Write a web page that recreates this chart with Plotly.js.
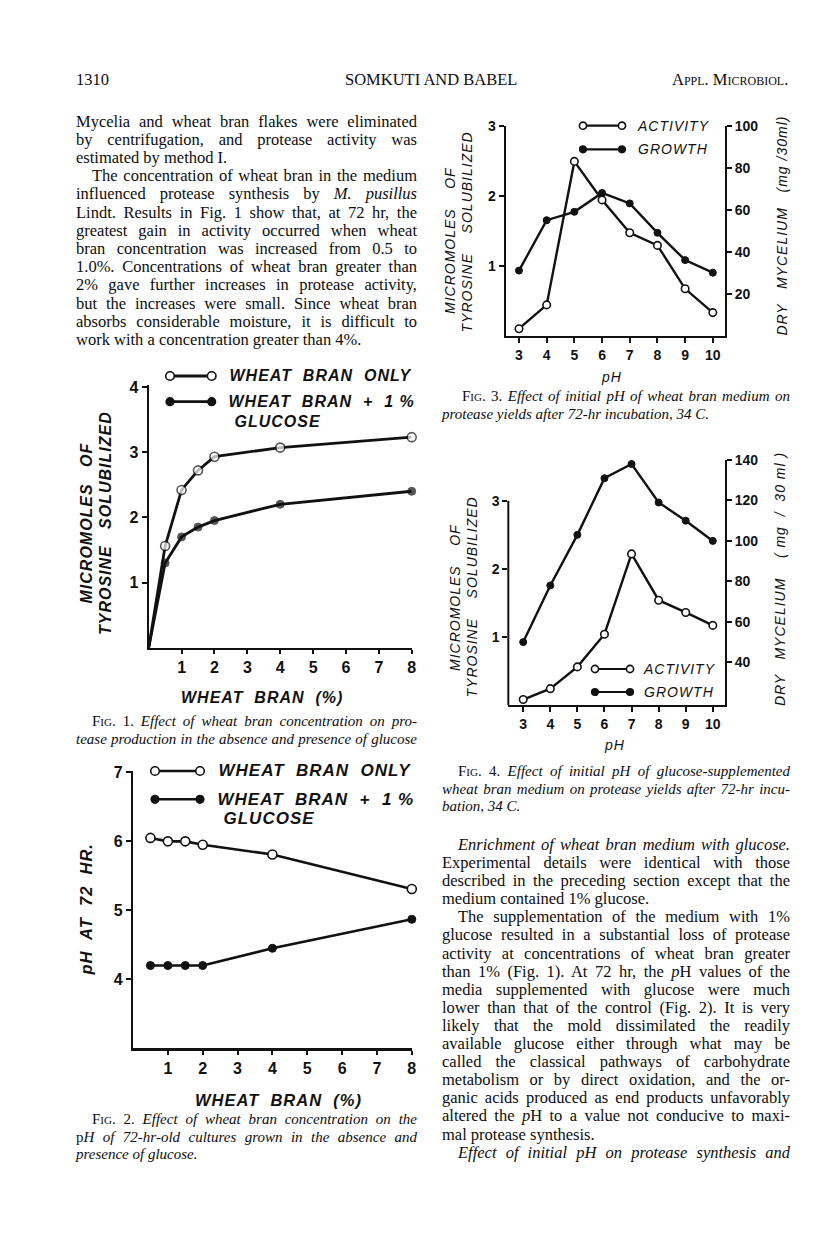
<!DOCTYPE html>
<html>
<head>
<meta charset="utf-8">
<script src="https://cdn.plot.ly/plotly-3.0.1.min.js"></script>
<style>
  html, body { margin:0; padding:0; background:#fff; }
  #page { position:relative; width:816px; height:1256px; overflow:hidden; background:#fff; }
  #chart { position:absolute; left:0; top:0; width:816px; height:1256px; }
  #chart text.annotation-text { letter-spacing: 1px; }
  .ln { position:absolute; white-space:nowrap; font-family:'Liberation Serif','Times New Roman',serif;
        color:#0d0d0d; text-align:justify; text-align-last:justify; }
  .body { font-size:16.5px; line-height:18.2px; height:18.2px; }
  .cap { font-size:15px; line-height:17.5px; height:17.5px; font-style:italic; }
  .last { text-align-last:left; }
  .sc { font-variant:small-caps; font-style:normal; }
  .rm { font-style:normal; }
</style>
</head>
<body>
<div id="page">
  <div id="chart"></div>
</div>
<script>
// ---------------- DATA ----------------
// Fig. 1: protease activity vs wheat bran concentration
const fig1Bran = [0, 0.5, 1, 1.5, 2, 4, 8];
const fig1WheatOnly = [0, 1.56, 2.42, 2.72, 2.93, 3.07, 3.23];
const fig1WheatGlucose = [0, 1.30, 1.70, 1.85, 1.95, 2.20, 2.40];
const fig1XTicks = [1, 2, 3, 4, 5, 6, 7, 8];
const fig1YTicks = [1, 2, 3, 4];

// Fig. 2: pH at 72 hr vs wheat bran concentration
const fig2Bran = [0.5, 1, 1.5, 2, 4, 8];
const fig2WheatOnly = [6.05, 6.0, 6.0, 5.95, 5.81, 5.31];
const fig2WheatGlucose = [4.2, 4.2, 4.2, 4.2, 4.45, 4.87];
const fig2XTicks = [1, 2, 3, 4, 5, 6, 7, 8];
const fig2YTicks = [4, 5, 6, 7];

// Fig. 3: wheat bran medium, initial pH
const pHValues = [3, 4, 5, 6, 7, 8, 9, 10];
const fig3Activity = [0.10, 0.44, 2.49, 1.94, 1.47, 1.29, 0.67, 0.33];
const fig3Growth = [31, 55, 59, 68, 63, 49, 36, 30];
const fig3LeftTicks = [1, 2, 3];
const fig3RightTicks = [20, 40, 60, 80, 100];

// Fig. 4: glucose-supplemented wheat bran medium, initial pH
const fig4Activity = [0.08, 0.24, 0.56, 1.04, 2.22, 1.54, 1.36, 1.17];
const fig4Growth = [50, 78, 103, 131, 138, 119, 110, 100];
const fig4LeftTicks = [1, 2, 3];
const fig4RightTicks = [40, 60, 80, 100, 120, 140];

// ---------------- HELPERS ----------------
const W = 816, H = 1256;
const P = x => x / W;
const Q = y => 1 - y / H;
const INK = '#111';
const SANS = 'Liberation Sans, Arial, sans-serif';

function openTrace(x, y, xa, ya, size, lw, hideZero) {
  return {
    x: x, y: y, xaxis: xa, yaxis: ya, type: 'scatter', mode: 'lines+markers',
    line: { color: INK, width: lw },
    marker: { symbol: 'circle', color: '#fff', size: hideZero ? x.map(v => v === 0 ? 0 : size) : size,
              line: { color: INK, width: 1.6 } },
    cliponaxis: false, showlegend: false, hoverinfo: 'skip'
  };
}
function filledTrace(x, y, xa, ya, size, lw, hideZero) {
  return {
    x: x, y: y, xaxis: xa, yaxis: ya, type: 'scatter', mode: 'lines+markers',
    line: { color: INK, width: lw },
    marker: { symbol: 'circle', color: INK, size: hideZero ? x.map(v => v === 0 ? 0 : size) : size,
              line: { color: INK, width: 1 } },
    cliponaxis: false, showlegend: false, hoverinfo: 'skip'
  };
}

const data = [
  openTrace(fig1Bran, fig1WheatOnly, 'x', 'y', 9, 2.8, true),
  filledTrace(fig1Bran, fig1WheatGlucose, 'x', 'y', 8, 2.8, true),
  openTrace(fig2Bran, fig2WheatOnly, 'x2', 'y2', 9, 2.6, false),
  filledTrace(fig2Bran, fig2WheatGlucose, 'x2', 'y2', 8, 2.6, false),
  openTrace(pHValues, fig3Activity, 'x3', 'y3', 7.5, 2.4, false),
  filledTrace(pHValues, fig3Growth, 'x3', 'y4', 7, 2.4, false),
  openTrace(pHValues, fig4Activity, 'x4', 'y5', 7.5, 2.4, false),
  filledTrace(pHValues, fig4Growth, 'x4', 'y6', 7, 2.4, false)
];

function axis(o) {
  return Object.assign({
    showgrid: false, zeroline: false, showline: true, linecolor: INK, linewidth: 2.2,
    ticks: 'outside', ticklen: 5, tickwidth: 2, tickcolor: INK, tickmode: 'array',
    fixedrange: true
  }, o);
}
const bigTick = { family: SANS, size: 16, color: INK, weight: 'bold' };
const smallTick = { family: SANS, size: 14, color: INK, weight: 'bold' };

const layout = {
  width: W, height: H, margin: { l: 0, r: 0, t: 0, b: 0 },
  paper_bgcolor: '#fff', plot_bgcolor: 'rgba(0,0,0,0)', showlegend: false,
  font: { family: SANS, color: INK },
  // Fig. 1
  xaxis: axis({ domain: [P(148.7), P(411.7)], range: [0, 8], tickvals: fig1XTicks, anchor: 'y',
                tickfont: bigTick, ticklen: 4 }),
  yaxis: axis({ domain: [Q(647.7), Q(385)], range: [0, 4.03], tickvals: fig1YTicks, anchor: 'x',
                tickfont: bigTick }),
  // Fig. 2
  xaxis2: axis({ domain: [P(133), P(411.8)], range: [0, 8], tickvals: fig2XTicks, anchor: 'y2',
                 tickfont: bigTick, ticklen: 4 }),
  yaxis2: axis({ domain: [Q(1048.3), Q(771)], range: [3, 7.02], tickvals: fig2YTicks, anchor: 'x2',
                 tickfont: bigTick }),
  // Fig. 3
  xaxis3: axis({ domain: [P(505.7), P(725)], range: [2.52, 10.44], tickvals: pHValues, anchor: 'y3',
                 tickfont: smallTick, linewidth: 2 }),
  yaxis3: axis({ domain: [Q(335.7), Q(125.7)], range: [0, 3], tickvals: fig3LeftTicks, anchor: 'x3',
                 tickfont: smallTick, linewidth: 2 }),
  yaxis4: axis({ overlaying: 'y3', side: 'right', anchor: 'x3', range: [0, 100], tickvals: fig3RightTicks,
                 tickfont: smallTick, linewidth: 2 }),
  // Fig. 4
  xaxis4: axis({ domain: [P(508.3), P(725)], range: [2.45, 10.45], tickvals: pHValues, anchor: 'y5',
                 tickfont: smallTick, linewidth: 2 }),
  yaxis5: axis({ domain: [Q(705), Q(460)], range: [0, 3.6], tickvals: fig4LeftTicks, anchor: 'x4',
                 tickfont: smallTick, showline: false }),
  yaxis6: axis({ overlaying: 'y5', side: 'right', anchor: 'x4', range: [18.9, 140], tickvals: fig4RightTicks,
                 tickfont: smallTick, linewidth: 2 }),
  shapes: [],
  annotations: []
};

// partial left axis line of Fig. 4 (drawn only up to 3)
layout.shapes.push({ type: 'line', xref: 'x4 domain', yref: 'y5', x0: 0, x1: 0, y0: 0, y1: 3,
                     line: { color: INK, width: 2 } });

// legend samples: line with a circle at each end
function sample(x0, x1, y, filled, lw, r) {
  layout.shapes.push({ type: 'line', xref: 'paper', yref: 'paper', x0: P(x0), x1: P(x1), y0: Q(y), y1: Q(y),
                       line: { color: INK, width: lw }, layer: 'above' });
  [x0, x1].forEach(cx => layout.shapes.push({
    type: 'circle', xref: 'paper', yref: 'paper', xsizemode: 'pixel', ysizemode: 'pixel',
    xanchor: P(cx), yanchor: Q(y), x0: -r, x1: r, y0: -r, y1: r,
    fillcolor: filled ? INK : '#fff', line: { color: INK, width: 1.6 }, layer: 'above' }));
}
function ann(text, x, y, o) {
  layout.annotations.push(Object.assign({
    text: text, xref: 'paper', yref: 'paper', x: P(x), y: Q(y), showarrow: false,
    xanchor: 'left', yanchor: 'middle'
  }, o || {}));
}
const bigLab = s => ({ family: SANS, size: s, color: INK, weight: 'bold', style: 'italic' });
const smLab = s => ({ family: SANS, size: s, color: INK, style: 'italic' });

// Fig. 1 legend & titles
sample(170, 211.7, 376, false, 2.8, 4.3);
sample(170, 211.7, 401.7, true, 2.8, 3.8);
ann('WHEAT  BRAN  ONLY', 236, 376, { font: bigLab(16) });
ann('WHEAT  BRAN  +  1 %', 236, 401.7, { font: bigLab(16) });
ann('GLUCOSE', 236, 421.7, { font: bigLab(16) });
ann('MICROMOLES   OF', 86, 523, { font: bigLab(16), textangle: -90, xanchor: 'center' });
ann('TYROSINE   SOLUBILIZED', 105, 523, { font: bigLab(16), textangle: -90, xanchor: 'center' });
ann('WHEAT  BRAN  (%)', 262, 697, { font: bigLab(16), xanchor: 'center' });

// Fig. 2 legend & titles
sample(155, 200, 771, false, 2.6, 4.3);
sample(155, 200, 799.3, true, 2.6, 3.8);
ann('WHEAT  BRAN  ONLY', 225, 771, { font: bigLab(17) });
ann('WHEAT  BRAN  +  1 %', 225, 799.3, { font: bigLab(17) });
ann('GLUCOSE', 225, 818.3, { font: bigLab(17) });
ann('pH  AT  72  HR.', 86, 910, { font: bigLab(16.5), textangle: -90, xanchor: 'center' });
ann('WHEAT  BRAN  (%)', 278, 1100, { font: bigLab(16.5), xanchor: 'center' });

// Fig. 3 legend & titles
sample(583, 622, 125.7, false, 2.2, 3.6);
sample(583, 622, 149.3, true, 2.2, 3.3);
ann('ACTIVITY', 639, 125.7, { font: smLab(14) });
ann('GROWTH', 639, 149.3, { font: smLab(14) });
ann('MICROMOLES    OF', 450, 240, { font: smLab(14), textangle: -90, xanchor: 'center' });
ann('TYROSINE    SOLUBILIZED', 467, 232, { font: smLab(14), textangle: -90, xanchor: 'center' });
ann('DRY   MYCELIUM   (mg /30ml)', 782, 226, { font: smLab(14), textangle: -90, xanchor: 'center' });
ann('pH', 612, 377, { font: smLab(14), xanchor: 'center' });

// Fig. 4 legend & titles
sample(595, 630, 669, false, 2.2, 3.6);
sample(595, 630, 692, true, 2.2, 3.3);
ann('ACTIVITY', 645, 669, { font: smLab(14) });
ann('GROWTH', 645, 692, { font: smLab(14) });
ann('MICROMOLES    OF', 455, 597, { font: smLab(14), textangle: -90, xanchor: 'center' });
ann('TYROSINE    SOLUBILIZED', 472, 597, { font: smLab(14), textangle: -90, xanchor: 'center' });
ann('DRY   MYCELIUM    ( mg  /  30 ml )', 780, 579, { font: smLab(14), textangle: -90, xanchor: 'center' });
ann('pH', 615, 745, { font: smLab(14), xanchor: 'center' });

Plotly.newPlot('chart', data, layout, { staticPlot: true, displayModeBar: false });

// ---------------- PAGE TEXT ----------------
const page = document.getElementById('page');
function line(html, left, width, cy, cls, indent, last) {
  const d = document.createElement('div');
  d.className = 'ln ' + cls + (last ? ' last' : '');
  const lh = cls === 'body' ? 18.2 : 17.5;
  d.style.left = (left + (indent || 0)) + 'px';
  d.style.width = (width - (indent || 0)) + 'px';
  d.style.top = (cy - lh / 2) + 'px';
  d.innerHTML = html;
  page.appendChild(d);
}
// running head
line('1310', 76, 60, 80, 'body', 0, true);
line('SOMKUTI AND BABEL', 345, 200, 80, 'body', 0, true);
line('<span style="font-variant:small-caps">Appl. Microbiol.</span>', 672, 140, 80, 'body', 0, true);

const LX = 76, LW = 341, RX = 442, RW = 348;
const leftBody = [
  ['Mycelia and wheat bran flakes were eliminated', 0, false],
  ['by centrifugation, and protease activity was', 0, false],
  ['estimated by method I.', 0, true],
  ['The concentration of wheat bran in the medium', 16, false],
  ['influenced protease synthesis by <i>M. pusillus</i>', 0, false],
  ['Lindt. Results in Fig. 1 show that, at 72 hr, the', 0, false],
  ['greatest gain in activity occurred when wheat', 0, false],
  ['bran concentration was increased from 0.5 to', 0, false],
  ['1.0%. Concentrations of wheat bran greater than', 0, false],
  ['2% gave further increases in protease activity,', 0, false],
  ['but the increases were small. Since wheat bran', 0, false],
  ['absorbs considerable moisture, it is difficult to', 0, false],
  ['work with a concentration greater than 4%.', 0, true]
];
leftBody.forEach((l, i) => line(l[0], LX, LW, 121.7 + i * 18.2, 'body', l[1], l[2]));

const rightBody = [
  ['<i>Enrichment of wheat bran medium with glucose.</i>', 16, false],
  ['Experimental details were identical with those', 0, false],
  ['described in the preceding section except that the', 0, false],
  ['medium contained 1% glucose.', 0, true],
  ['The supplementation of the medium with 1%', 16, false],
  ['glucose resulted in a substantial loss of protease', 0, false],
  ['activity at concentrations of wheat bran greater', 0, false],
  ['than 1% (Fig. 1). At 72 hr, the <i>p</i>H values of the', 0, false],
  ['media supplemented with glucose were much', 0, false],
  ['lower than that of the control (Fig. 2). It is very', 0, false],
  ['likely that the mold dissimilated the readily', 0, false],
  ['available glucose either through what may be', 0, false],
  ['called the classical pathways of carbohydrate', 0, false],
  ['metabolism or by direct oxidation, and the or-', 0, false],
  ['ganic acids produced as end products unfavorably', 0, false],
  ['altered the <i>p</i>H to a value not conducive to maxi-', 0, false],
  ['mal protease synthesis.', 0, true],
  ['<i>Effect of initial pH on protease synthesis and</i>', 16, false]
];
rightBody.forEach((l, i) => line(l[0], RX, RW, 845 + i * 18.1, 'body', l[1], l[2]));

// figure captions
const FIG = n => '<span class="sc">Fig. ' + n + '.</span> ';
line(FIG(1) + 'Effect of wheat bran concentration on pro-', LX, LW, 722, 'cap', 16, false);
line('tease production in the absence and presence of glucose', LX, LW, 740, 'cap', 0, false);

line(FIG(2) + 'Effect of wheat bran concentration on the', LX, LW, 1120, 'cap', 16, false);
line('<span class="rm">p</span>H of 72-hr-old cultures grown in the absence and', LX, LW, 1137.5, 'cap', 0, false);
line('presence of glucose.', LX, LW, 1155, 'cap', 0, true);

line(FIG(3) + 'Effect of initial pH of wheat bran medium on', RX, RW, 397, 'cap', 20, false);
line('protease yields after 72-hr incubation, 34 C.', RX, RW, 415, 'cap', 0, true);

line(FIG(4) + 'Effect of initial pH of glucose-supplemented', RX, RW, 772, 'cap', 16, false);
line('wheat bran medium on protease yields after 72-hr incu-', RX, RW, 789.5, 'cap', 0, false);
line('bation, 34 C.', RX, RW, 807, 'cap', 0, true);
</script>
</body>
</html>
